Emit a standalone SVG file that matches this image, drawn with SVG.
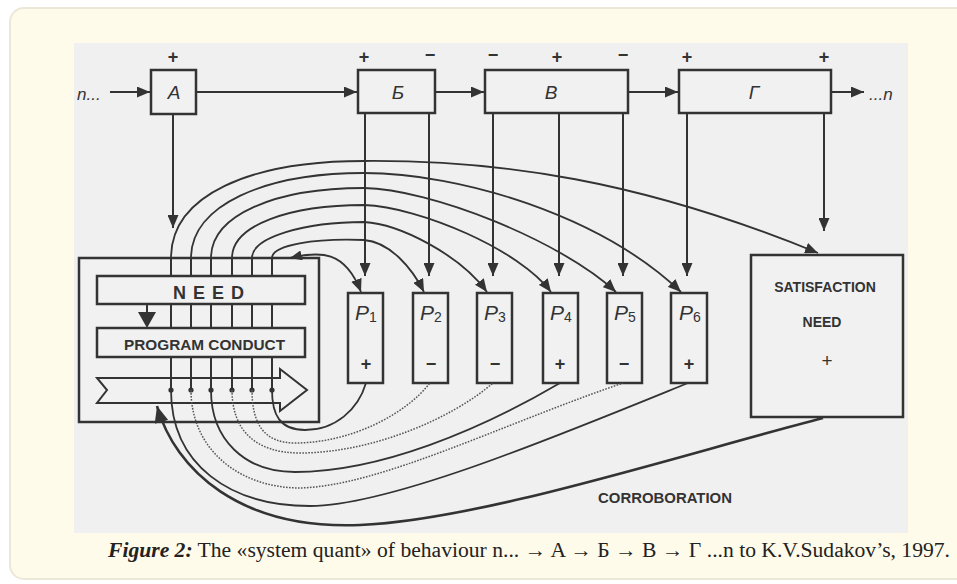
<svg xmlns="http://www.w3.org/2000/svg" width="957" height="584" viewBox="0 0 957 584">
<style>
.bx{fill:#f1f1f1;stroke:#333;stroke-width:2.5}
.ln{fill:none;stroke:#333;stroke-width:2}
.cv{fill:none;stroke:#333;stroke-width:1.8}
.dt{fill:none;stroke:#555;stroke-width:1.5;stroke-dasharray:1.6 1.4}
.t{font-family:"Liberation Sans",Arial,sans-serif;fill:#333}
.it{font-style:italic}
.b{font-weight:bold}
.sg{font-family:"Liberation Sans",Arial,sans-serif;font-weight:bold;font-size:18px;fill:#333;text-anchor:middle}
.c{text-anchor:middle}
</style>
<defs>
<marker id="ah" viewBox="0 0 13 11" refX="13" refY="5.5" markerWidth="13" markerHeight="11" markerUnits="userSpaceOnUse" orient="auto"><path d="M0,0 L13,5.5 L0,11 z" fill="#333"/></marker>
<marker id="ahs" viewBox="0 0 13 11" refX="13" refY="5.5" markerWidth="12" markerHeight="10" markerUnits="userSpaceOnUse" orient="auto-start-reverse"><path d="M0,0 L13,5.5 L0,11 z" fill="#333"/></marker>
<marker id="ahb" viewBox="0 0 13 11" refX="13" refY="5.5" markerWidth="17" markerHeight="14" markerUnits="userSpaceOnUse" orient="auto"><path d="M0,0 L13,5.5 L0,11 z" fill="#333"/></marker>
</defs>
<rect x="0" y="0" width="957" height="584" fill="#ffffff"/>
<rect x="10" y="8" width="970" height="571" rx="14" fill="#fffbea" stroke="#ebe8da" stroke-width="2"/>
<rect x="74" y="43" width="834" height="490" fill="#f0f0f0"/>

<g id="node-A">
<rect class="bx" x="151" y="70" width="45" height="44"/>
<text class="t it c" x="174" y="99" font-size="19">A</text>
<text class="sg" x="173" y="63">+</text>
</g>
<g id="node-B">
<rect class="bx" x="358" y="70" width="77" height="43"/>
<text class="t it c" x="398" y="99" font-size="19">Б</text>
<text class="sg" x="364" y="63">+</text>
<text class="sg" x="430" y="61">−</text>
</g>
<g id="node-V">
<rect class="bx" x="485" y="70" width="143" height="43"/>
<text class="t it c" x="551" y="99" font-size="19">В</text>
<text class="sg" x="493" y="61">−</text>
<text class="sg" x="557" y="63">+</text>
<text class="sg" x="623" y="61">−</text>
</g>
<g id="node-G">
<rect class="bx" x="679" y="70" width="152" height="43"/>
<text class="t it c" x="754" y="99" font-size="19">Г</text>
<text class="sg" x="687" y="63">+</text>
<text class="sg" x="824" y="63">+</text>
</g>
<g id="label-in"><text class="t it" x="77" y="100" font-size="17">n...</text></g>
<g id="label-out"><text class="t it" x="869" y="100" font-size="17">...n</text></g>

<g id="node-program">
<rect x="79" y="258" width="240" height="164" fill="#f1f1f1" stroke="#333" stroke-width="2.5"/>
<g stroke="#333" stroke-width="2">
<line x1="171" y1="258" x2="171" y2="390"/>
<line x1="191" y1="258" x2="191" y2="390"/>
<line x1="211" y1="258" x2="211" y2="390"/>
<line x1="232" y1="258" x2="232" y2="390"/>
<line x1="252" y1="258" x2="252" y2="390"/>
<line x1="272" y1="258" x2="272" y2="390"/>
</g>
<rect class="bx" x="97" y="276" width="208" height="28"/>
<text class="t b c" x="212" y="299" font-size="18" letter-spacing="7" fill="#3a3a3a">NEED</text>
<line x1="147" y1="304" x2="147" y2="314" stroke="#333" stroke-width="2"/>
<path d="M138,312 L156,312 L147,328 z" fill="#333"/>
<rect class="bx" x="97" y="328" width="208" height="29"/>
<text class="t b" x="124" y="350" font-size="15" textLength="161" lengthAdjust="spacingAndGlyphs" fill="#3a3a3a">PROGRAM  CONDUCT</text>
<path d="M97,378 L280,378 L280,369 L307,390 L280,411 L280,403 L97,403 L107,390 z" fill="none" stroke="#333" stroke-width="2"/>
<g fill="#333">
<circle cx="171" cy="390" r="2.6"/><circle cx="191" cy="390" r="2.6"/><circle cx="211" cy="390" r="2.6"/>
<circle cx="232" cy="390" r="2.6"/><circle cx="252" cy="390" r="2.6"/><circle cx="272" cy="390" r="2.6"/>
</g>
</g>

<g id="node-P1"><rect class="bx" x="348" y="293" width="35" height="90"/><text class="t it c" x="366" y="320" font-size="21" fill="#444">P<tspan font-size="14" font-style="normal" dy="2">1</tspan></text><text class="sg" x="366" y="370">+</text></g>
<g id="node-P2"><rect class="bx" x="413" y="293" width="35" height="90"/><text class="t it c" x="431" y="320" font-size="21" fill="#444">P<tspan font-size="14" font-style="normal" dy="2">2</tspan></text><text class="sg" x="431" y="370">−</text></g>
<g id="node-P3"><rect class="bx" x="477" y="293" width="35" height="90"/><text class="t it c" x="495" y="320" font-size="21" fill="#444">P<tspan font-size="14" font-style="normal" dy="2">3</tspan></text><text class="sg" x="495" y="370">−</text></g>
<g id="node-P4"><rect class="bx" x="543" y="293" width="35" height="90"/><text class="t it c" x="561" y="320" font-size="21" fill="#444">P<tspan font-size="14" font-style="normal" dy="2">4</tspan></text><text class="sg" x="560" y="370">+</text></g>
<g id="node-P5"><rect class="bx" x="607" y="293" width="35" height="90"/><text class="t it c" x="625" y="320" font-size="21" fill="#444">P<tspan font-size="14" font-style="normal" dy="2">5</tspan></text><text class="sg" x="624" y="370">−</text></g>
<g id="node-P6"><rect class="bx" x="671" y="293" width="36" height="90"/><text class="t it c" x="690" y="320" font-size="21" fill="#444">P<tspan font-size="14" font-style="normal" dy="2">6</tspan></text><text class="sg" x="689" y="370">+</text></g>

<g id="node-satisfaction">
<rect class="bx" x="751" y="255" width="152" height="162"/>
<text class="t b c" x="825" y="292" font-size="14" fill="#3a3a3a">SATISFACTION</text>
<text class="t b c" x="822" y="327" font-size="14" fill="#3a3a3a">NEED</text>
<text class="t c" x="827" y="367" font-size="19" fill="#555">+</text>
</g>
<g id="label-corroboration"><text class="t b" x="598" y="503" font-size="14.5" textLength="134" lengthAdjust="spacingAndGlyphs" fill="#3a3a3a">CORROBORATION</text></g>

<g id="connectors">
<line class="ln" x1="110" y1="92" x2="150" y2="92" marker-end="url(#ah)"/>
<line class="ln" x1="196" y1="92" x2="357" y2="92" marker-end="url(#ah)"/>
<line class="ln" x1="435" y1="92" x2="484" y2="92" marker-end="url(#ah)"/>
<line class="ln" x1="628" y1="92" x2="678" y2="92" marker-end="url(#ah)"/>
<line class="ln" x1="831" y1="92" x2="864" y2="92" marker-end="url(#ah)"/>
<line class="ln" x1="173" y1="114" x2="173" y2="228" marker-end="url(#ah)"/>
<line class="ln" x1="365" y1="113" x2="365" y2="276" marker-end="url(#ah)"/>
<line class="ln" x1="429" y1="113" x2="429" y2="276" marker-end="url(#ah)"/>
<line class="ln" x1="493" y1="113" x2="493" y2="276" marker-end="url(#ah)"/>
<line class="ln" x1="559" y1="113" x2="559" y2="276" marker-end="url(#ah)"/>
<line class="ln" x1="623" y1="113" x2="623" y2="276" marker-end="url(#ah)"/>
<line class="ln" x1="687" y1="113" x2="687" y2="276" marker-end="url(#ah)"/>
<line class="ln" x1="824" y1="113" x2="824" y2="231" marker-end="url(#ah)"/>

<path class="cv" d="M171,258 C171,195 250,161 364,161 C500,160 640,180 818,253" marker-end="url(#ah)"/>
<path class="cv" d="M191,258 C191,205 265,173 364,173 C460,173 600,215 681,292" marker-end="url(#ah)"/>
<path class="cv" d="M211,258 C211,215 275,188 364,188 C430,189 560,240 616,292" marker-end="url(#ah)"/>
<path class="cv" d="M232,258 C232,225 290,205 364,205 C420,207 520,250 551,292" marker-end="url(#ah)"/>
<path class="cv" d="M252,258 C252,237 305,222 364,222 C400,224 460,255 487,292" marker-end="url(#ah)"/>
<path class="cv" d="M272,258 C272,245 315,238 364,240 C390,242 412,268 424,292" marker-end="url(#ah)"/>
<path class="cv" d="M290,258 C320,251 345,250 361,292" marker-start="url(#ahs)" marker-end="url(#ah)"/>

<path class="cv" d="M272,390 C272,415 280,430 305,430 C335,430 358,410 366,383"/>
<path class="dt" d="M252,390 C252,425 265,443 295,443 C350,443 405,415 430,383"/>
<path class="dt" d="M232,390 C232,430 255,453 300,453 C370,453 450,420 493,383"/>
<path class="cv" d="M211,390 C211,440 245,472 295,472 C380,472 480,430 560,383"/>
<path class="dt" d="M191,390 C191,450 240,488 300,488 C380,486 500,425 623,383"/>
<path class="cv" d="M171,390 C171,465 230,506 310,506 C390,506 560,435 688,383"/>
<path fill="none" stroke="#333" stroke-width="2.6" d="M823,418 C680,455 480,520 360,525 C240,530 175,470 157,406" marker-end="url(#ahb)"/>
</g>

<g id="caption">
<text x="108" y="557" font-family="'Liberation Serif','Times New Roman',serif" font-size="20" fill="#222" textLength="842" lengthAdjust="spacingAndGlyphs"><tspan font-weight="bold" font-style="italic">Figure 2:</tspan> The «system quant» of behaviour n... → A → Б → В → Г ...n to K.V.Sudakov’s, 1997.</text>
</g>
</svg>
